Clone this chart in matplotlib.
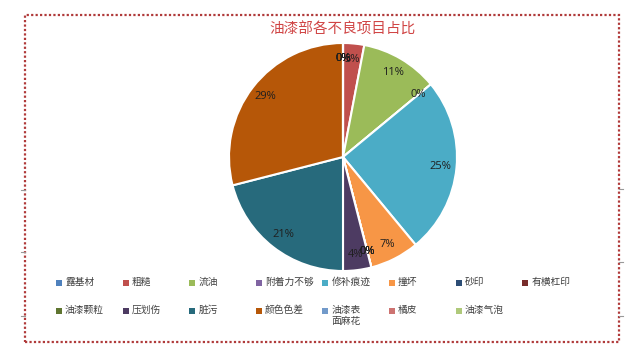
import matplotlib
matplotlib.use("Agg")
import matplotlib.pyplot as plt
from matplotlib.patches import Rectangle
from matplotlib.lines import Line2D

plt.rcParams['font.family'] = ['Noto Sans CJK SC', 'DejaVu Sans']

categories = ["露基材", "粗糙", "流油", "附着力不够", "修补痕迹", "撞坏", "砂印", "有横杠印",
              "油漆颗粒", "压划伤", "脏污", "颜色色差", "油漆表\n面麻花", "橘皮", "油漆气泡"]
values = [0, 3, 11, 0, 25, 7, 0, 0, 0, 4, 21, 29, 0, 0, 0]
colors = ["#4F81BD", "#C0504D", "#9BBB59", "#8064A2", "#4BACC6", "#F79646", "#2C4D75", "#772C2A",
          "#5F7530", "#4D3B62", "#276A7C", "#B65708", "#729ACA", "#CD7371", "#AFC97A"]
title = "油漆部各不良项目占比"

W, H = 640, 360
fig = plt.figure(figsize=(W / 100, H / 100), dpi=100)

cx, cy, r = 343, 157, 114
ax = fig.add_axes([(cx - r) / W, (H - cy - r) / H, 2 * r / W, 2 * r / H])
ax.pie(values, colors=colors, startangle=90, counterclock=False,
       autopct='%.0f%%', pctdistance=0.86,
       wedgeprops=dict(edgecolor='white', linewidth=1.5),
       textprops=dict(fontsize=8, color='#1F1F1F', family=['Open Sans', 'DejaVu Sans']))
ax.set_xlim(-1, 1)
ax.set_ylim(-1, 1)
ax.set_aspect('equal')
ax.axis('off')

fig.text(cx / W, 1 - 30 / H, title, ha='center', va='center', fontsize=10.5, color='#D04545')

# legend (manual layout, 8 columns)
x0, dx = 59, 66.6
row_y = [283, 311]
for i, (lab, col) in enumerate(zip(categories, colors)):
    c, rr = i % 8, i // 8
    x = x0 + c * dx
    y = row_y[rr]
    fig.patches.append(Rectangle(((x - 3) / W, 1 - (y + 3) / H), 6 / W, 6 / H,
                                 transform=fig.transFigure, facecolor=col, edgecolor='none'))
    fig.text((x + 6) / W, 1 - (y - 6.5) / H, lab, ha='left', va='top', fontsize=7,
             color='#404040', linespacing=1.2)

# dotted border
fig.patches.append(Rectangle((25 / W, 1 - 342 / H), (619 - 25) / W, (342 - 15) / H,
                             transform=fig.transFigure, fill=False, edgecolor='#B03A3A',
                             linewidth=1.6, linestyle=(0, (1, 1))))

# faint tick marks on sides
for yy in [190, 252, 316]:
    fig.lines.append(Line2D([21 / W, 25 / W], [1 - yy / H] * 2, transform=fig.transFigure,
                            color='#999999', linewidth=0.8))
for yy in [189, 262, 316]:
    fig.lines.append(Line2D([619 / W, 623 / W], [1 - yy / H] * 2, transform=fig.transFigure,
                            color='#999999', linewidth=0.8))

fig.savefig("out.png", dpi=100)
